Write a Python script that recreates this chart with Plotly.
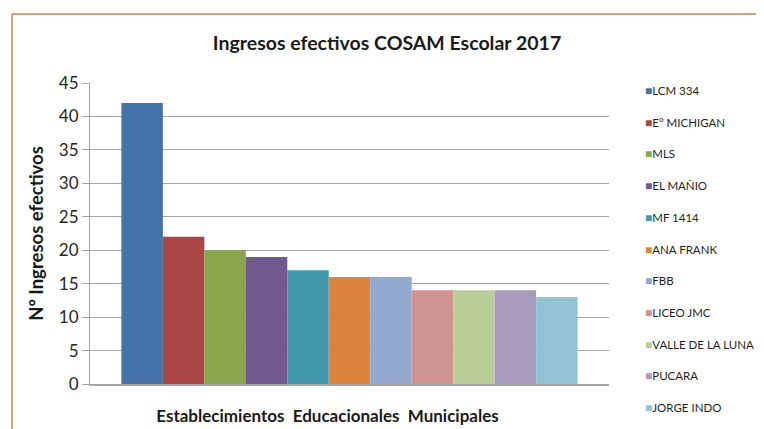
import plotly.graph_objects as go

category = ["Establecimientos  Educacionales  Municipales"]
schools = ["LCM 334", "E° MICHIGAN", "MLS", "EL MAÑIO", "MF 1414", "ANA FRANK",
           "FBB", "LICEO JMC", "VALLE DE LA LUNA", "PUCARA", "JORGE INDO"]
values = [42, 22, 20, 19, 17, 16, 16, 14, 14, 14, 13]
colors = ["#4572A7", "#AA4643", "#89A54E", "#71588F", "#4198AF", "#DB843D",
          "#93A9CF", "#D19392", "#B9CD96", "#A99BBD", "#91C3D5"]

FONT = "Lato, 'Open Sans', sans-serif"

fig = go.Figure()
for name, v, c in zip(schools, values, colors):
    fig.add_trace(go.Bar(x=category, y=[v], name=name, showlegend=False,
                         marker=dict(color=c, line=dict(width=0))))
# legend entries: small colour square inside the label text
for name, v, c in zip(schools, values, colors):
    fig.add_trace(go.Scatter(x=category, y=[0], mode="markers", hoverinfo="skip",
                             marker=dict(size=0, opacity=0, color="rgba(0,0,0,0)"),
                             name=f"<span style='color:{c};font-size:12px'>■</span>{name}",
                             legendgroup=name))

# page body has an 8px offset in the viewer
OFF = 8
W, H = 764 - OFF, 429 - OFF
ml, mr, mt, mb = 90 - OFF, 764 - 609, 83 - OFF, 429 - 384
pw, ph = W - ml - mr, H - mt - mb
bx = (12 - OFF - ml) / pw
by = 1 + (mt - (14 - OFF)) / ph

fig.update_layout(
    width=W, height=H,
    margin=dict(l=ml, r=mr, t=mt, b=mb, autoexpand=False),
    paper_bgcolor="white", plot_bgcolor="white",
    barmode="group", bargap=0.121, bargroupgap=0,
    font=dict(family=FONT, color="#262626"),
    title=dict(text="<b>Ingresos efectivos COSAM Escolar 2017</b>", x=(387 - OFF) / W, xanchor="center",
               y=1 - (43 - OFF) / H, yanchor="middle", font=dict(size=19.5, color="#1a1a1a")),
    legend=dict(x=(605 - OFF - ml) / pw, xanchor="left", y=1.0 + 7 / ph, yanchor="top",
                font=dict(size=11.5, color="#1f1f1f"), tracegroupgap=12.7, maxheight=400,
                itemwidth=30, bgcolor="rgba(0,0,0,0)"),
    shapes=[
        dict(type="line", xref="paper", yref="paper", x0=bx, x1=bx, y0=-0.3, y1=by,
             line=dict(color="#C8804F", width=1.5)),
        dict(type="line", xref="paper", yref="paper", x0=bx, x1=1.5, y0=by, y1=by,
             line=dict(color="#C8804F", width=1.5)),
    ],
)
fig.update_yaxes(range=[0, 45], dtick=5, showgrid=True, gridcolor="#A6A6A6", gridwidth=1,
                 showline=True, linecolor="#A6A6A6", linewidth=1,
                 ticks="outside", ticklen=7, tickcolor="#A6A6A6",
                 tickfont=dict(size=17, color="#262626"), automargin=False,
                 title=dict(text="<b>Nº Ingresos efectivos</b>", font=dict(size=18.5, color="#1a1a1a"),
                            standoff=10),
                 zeroline=False)
fig.update_xaxes(showline=True, linecolor="#A6A6A6", linewidth=1.5, automargin=False,
                 tickfont=dict(size=17, color="#1a1a1a"), ticklabelstandoff=16,
                 ticklabelshift=-22,
                 tickprefix="<b>", ticksuffix="</b>")

fig.write_html("out.html")
